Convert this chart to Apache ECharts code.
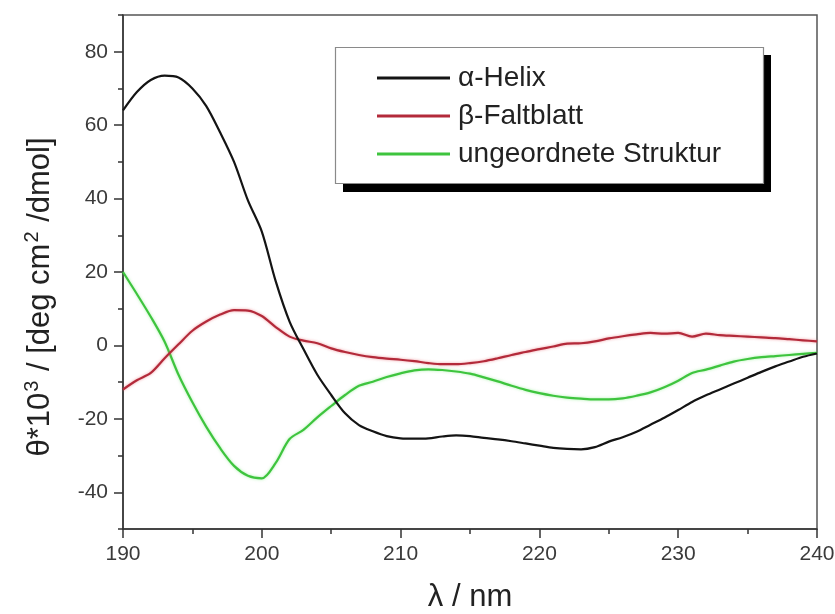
<!DOCTYPE html>
<html>
<head>
<meta charset="utf-8">
<script src="https://cdn.jsdelivr.net/npm/echarts@6/dist/echarts.min.js"></script>
<style>
  html, body { margin: 0; padding: 0; background: #fff; }
  #chart { width: 835px; height: 614px; }
</style>
</head>
<body>
<div id="chart"></div>
<script>
// Wavelengths in nm (1 nm steps)
const wavelengths = [
  190, 191, 192, 193, 194, 195, 196, 197, 198, 199,
  200, 201, 202, 203, 204, 205, 206, 207, 208, 209,
  210, 211, 212, 213, 214, 215, 216, 217, 218, 219,
  220, 221, 222, 223, 224, 225, 226, 227, 228, 229,
  230, 231, 232, 233, 234, 235, 236, 237, 238, 239, 240
];

// Mean residue ellipticity (θ·10³, deg cm²/dmol) for the reference structures
const alphaHelix = [
  64, 69, 72.3, 73.5, 73, 70, 65.2, 58, 50, 39.5,
  31, 17.5, 6.5, -1, -8, -13.5, -18.5, -21.7, -23.4, -24.7,
  -25.3, -25.4, -25.3, -24.8, -24.5, -24.7, -25.2, -25.6, -26.1, -26.7,
  -27.3, -27.9, -28.2, -28.3, -27.7, -26.2, -25.0, -23.5, -21.6, -19.7,
  -17.6, -15.4, -13.6, -12, -10.4, -8.8, -7.2, -5.7, -4.4, -3.1, -2.2
];
const betaSheet = [
  -12, -9.5, -7.5, -3.5, 0.3, 4, 6.5, 8.4, 9.6, 9.5,
  8, 5, 2.4, 1.3, 0.6, -0.8, -1.8, -2.6, -3.2, -3.6,
  -3.9, -4.3, -4.8, -5.1, -5.1, -4.8, -4.3, -3.5, -2.6, -1.8,
  -1, -0.3, 0.5, 0.6, 1.1, 1.9, 2.5, 3, 3.4, 3.2,
  3.4, 2.4, 3.2, 2.8, 2.6, 2.4, 2.2, 2, 1.7, 1.4, 1.1
];
const randomCoil = [
  20, 14, 7.8, 1, -8, -15.5, -22.2, -28, -32.8, -35.5,
  -36.2, -32, -25.5, -23, -19.6, -16.5, -13.5, -11, -9.9, -8.6,
  -7.6, -6.8, -6.5, -6.7, -7.1, -7.7, -8.7, -9.8, -11, -12.1,
  -13, -13.7, -14.2, -14.5, -14.7, -14.7, -14.4, -13.7, -12.8, -11.4,
  -9.6, -7.5, -6.6, -5.5, -4.4, -3.7, -3.2, -2.9, -2.6, -2.3, -2
];

const seriesNames = ['\u03b1-Helix', '\u03b2-Faltblatt', 'ungeordnete Struktur'];
const seriesColors = ['#141414', '#b32a3a', '#3ec43e'];

const yMajorTicks = [-40, -20, 0, 20, 40, 60, 80];
const yMinorTicks = [-50, -30, -10, 10, 30, 50, 70, 90];

const FONT = '"Liberation Sans", Arial, sans-serif';
const AXIS_COLOR = '#333';
const LABEL_COLOR = '#3a3a3a';
const TITLE_COLOR = '#222';

function pairs(values) {
  return wavelengths.map((w, i) => [w, values[i]]);
}

const chart = echarts.init(document.getElementById('chart'), null, { renderer: 'canvas' });

chart.setOption({
  animation: false,
  backgroundColor: '#fff',
  textStyle: { fontFamily: FONT },
  grid: {
    left: 123, right: 18, top: 15, bottom: 85,
    outerBoundsMode: 'none',
    containLabel: false,
    show: true, borderColor: '#555', borderWidth: 1.5, backgroundColor: 'transparent'
  },
  xAxis: {
    type: 'value',
    min: 190, max: 240, interval: 10,
    axisLine: { show: true, onZero: false, lineStyle: { color: AXIS_COLOR, width: 1.5 } },
    axisTick: { show: true, inside: false, length: 9, lineStyle: { color: AXIS_COLOR, width: 1.5 } },
    minorTick: { show: true, splitNumber: 2, length: 5, lineStyle: { color: AXIS_COLOR, width: 1.5 } },
    axisLabel: { fontFamily: FONT, fontSize: 21, color: LABEL_COLOR, margin: 15 },
    splitLine: { show: false },
    minorSplitLine: { show: false }
  },
  yAxis: [
    {
      type: 'value',
      min: -50, max: 90,
      position: 'left',
      axisLine: { show: true, onZero: false, lineStyle: { color: AXIS_COLOR, width: 1.5 } },
      axisTick: {
        show: true, inside: false, length: 9,
        customValues: yMajorTicks,
        lineStyle: { color: AXIS_COLOR, width: 1.5 }
      },
      axisLabel: {
        fontFamily: FONT, fontSize: 21, color: LABEL_COLOR, margin: 15,
        customValues: yMajorTicks
      },
      splitLine: { show: false }
    },
    {
      type: 'value',
      min: -50, max: 90,
      position: 'left',
      offset: 0,
      axisLine: { show: false },
      axisTick: {
        show: true, inside: false, length: 5,
        customValues: yMinorTicks,
        lineStyle: { color: AXIS_COLOR, width: 1.5 }
      },
      axisLabel: { show: false },
      splitLine: { show: false }
    }
  ],
  legend: {
    orient: 'vertical',
    left: 377, top: 64,
    padding: 0,
    itemWidth: 73, itemHeight: 3,
    itemGap: 10,
    icon: 'rect',
    z: 5,
    selectedMode: false,
    textStyle: { fontFamily: FONT, fontSize: 28, color: '#222', lineHeight: 26, padding: [0, 0, 0, 3] },
    data: seriesNames
  },
  graphic: [
    // hard drop shadow behind the legend box
    { type: 'rect', z: 3, shape: { x: 343, y: 55, width: 428, height: 137 },
      style: { fill: '#000' } },
    { type: 'rect', z: 4, shape: { x: 335.5, y: 47.5, width: 428, height: 136 },
      style: { fill: '#fff', stroke: '#8a8a8a', lineWidth: 1.2 } },
    // axis titles
    { type: 'text', z: 5, x: 470, y: 597,
      style: {
        text: '\u03bb / nm', font: '31px ' + FONT, fill: TITLE_COLOR,
        align: 'center', verticalAlign: 'middle'
      } },
    { type: 'text', z: 5, x: 40, y: 297, rotation: Math.PI / 2,
      style: {
        text: '\u03b8*10{s|3} / [deg cm{s|2} /dmol]',
        font: '31px ' + FONT, fill: TITLE_COLOR, lineHeight: 36,
        align: 'center', verticalAlign: 'middle',
        rich: {
          s: { fontSize: 20, fontFamily: FONT, fill: TITLE_COLOR, lineHeight: 20,
               verticalAlign: 'top', padding: [0, 1, 0, 1] }
        }
      } }
  ],
  series: [
    {
      name: seriesNames[0], type: 'line', data: pairs(alphaHelix),
      showSymbol: false, symbol: 'none', smooth: 0.3,
      lineStyle: { color: seriesColors[0], width: 2.2 },
      itemStyle: { color: seriesColors[0] }, z: 4
    },
    {
      name: seriesNames[1], type: 'line', data: pairs(betaSheet),
      showSymbol: false, symbol: 'none', smooth: 0.3,
      lineStyle: { color: seriesColors[1], width: 2.2, shadowColor: 'rgba(230,90,100,0.6)', shadowBlur: 3 },
      itemStyle: { color: seriesColors[1] }, z: 3
    },
    {
      name: seriesNames[2], type: 'line', data: pairs(randomCoil),
      showSymbol: false, symbol: 'none', smooth: 0.3,
      lineStyle: { color: seriesColors[2], width: 2.2, shadowColor: 'rgba(90,230,90,0.5)', shadowBlur: 3 },
      itemStyle: { color: seriesColors[2] }, z: 2
    }
  ]
});
</script>
</body>
</html>
